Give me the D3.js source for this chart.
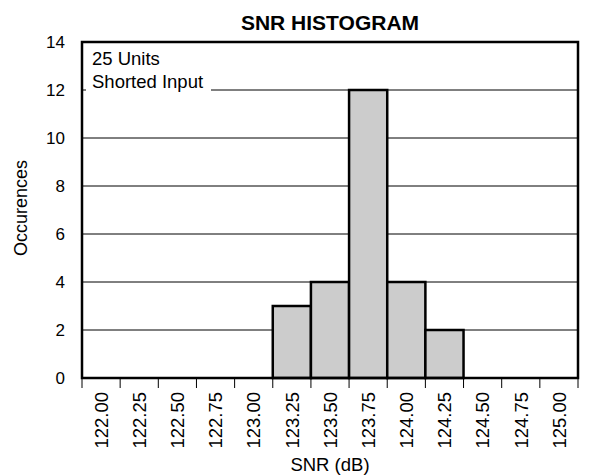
<!DOCTYPE html>
<html>
<head>
<meta charset="utf-8">
<script src="https://cdn.jsdelivr.net/npm/d3@7"></script>
<style>
  body { margin: 0; background: #fff; }
  text { font-family: "Liberation Sans", Arial, sans-serif; fill: #000; }
</style>
</head>
<body>
<div id="chart"></div>
<script>
////////////////////////////////////////////////////////////////////////
//
// SNR histogram -- 25 units, shorted input
//
////////////////////////////////////////////////////////////////////////

// chart data
var snrBins = ["122.00", "122.25", "122.50", "122.75", "123.00", "123.25", "123.50",
               "123.75", "124.00", "124.25", "124.50", "124.75", "125.00"];
var occurences = [0, 0, 0, 0, 0, 3, 4, 12, 4, 2, 0, 0, 0];
var yTicks = [0, 2, 4, 6, 8, 10, 12, 14];
var notes = ["25 Units", "Shorted Input"];

var width = 589;
var height = 476;
var margin = {top: 42, right: 11, bottom: 98, left: 82};

var svg = d3.select("#chart")
  .append("svg")
  .attr("width", width)
  .attr("height", height);

var x = d3.scaleBand()
  .domain(snrBins)
  .range([margin.left, width - margin.right])
  .padding(0);

var y = d3.scaleLinear()
  .domain([0, 14])
  .range([height - margin.bottom, margin.top]);

// gridlines
svg.append("g")
  .selectAll("line")
  .data(yTicks.slice(1, -1))
  .enter()
  .append("line")
  .attr("x1", margin.left)
  .attr("x2", width - margin.right)
  .attr("y1", d => y(d))
  .attr("y2", d => y(d))
  .attr("stroke", "#000")
  .attr("stroke-width", 1);

// white box behind the note, it hides part of the 12 gridline
svg.append("rect")
  .attr("x", margin.left + 4)
  .attr("y", margin.top + 3)
  .attr("width", 125)
  .attr("height", 50)
  .attr("fill", "#fff");

svg.append("g")
  .selectAll("text")
  .data(notes)
  .enter()
  .append("text")
  .attr("x", margin.left + 10)
  .attr("y", (d, i) => 65 + i * 23)
  .attr("font-size", 18.5)
  .text(d => d);

// bars
svg.append("g")
  .selectAll("rect")
  .data(occurences.map((v, i) => ({bin: snrBins[i], v: v})).filter(d => d.v > 0))
  .enter()
  .append("rect")
  .attr("x", d => x(d.bin))
  .attr("y", d => y(d.v))
  .attr("width", x.bandwidth())
  .attr("height", d => y(0) - y(d.v))
  .attr("fill", "#cccccc")
  .attr("stroke", "#000")
  .attr("stroke-width", 2.5);

// frame
svg.append("rect")
  .attr("x", margin.left)
  .attr("y", margin.top)
  .attr("width", width - margin.left - margin.right)
  .attr("height", height - margin.top - margin.bottom)
  .attr("fill", "none")
  .attr("stroke", "#000")
  .attr("stroke-width", 2.5);

// x ticks at bin edges
var edges = snrBins.map(b => x(b)).concat([x.range()[1]]);
svg.append("g")
  .selectAll("line")
  .data(edges)
  .enter()
  .append("line")
  .attr("x1", d => d)
  .attr("x2", d => d)
  .attr("y1", y(0))
  .attr("y2", y(0) + 10)
  .attr("stroke", "#000")
  .attr("stroke-width", 1);

// x tick labels (rotated)
svg.append("g")
  .selectAll("text")
  .data(snrBins)
  .enter()
  .append("text")
  .attr("transform", d => "translate(" + (x(d) + x.bandwidth() / 2 + 6.8) + "," + (y(0) + 14) + ") rotate(-90)")
  .attr("text-anchor", "end")
  .attr("font-size", 18.5)
  .text(d => d);

// y tick labels
svg.append("g")
  .selectAll("text")
  .data(yTicks)
  .enter()
  .append("text")
  .attr("x", margin.left - 17)
  .attr("y", d => y(d) + 6)
  .attr("text-anchor", "end")
  .attr("font-size", 17)
  .text(d => d);

// titles
svg.append("text")
  .attr("x", (margin.left + width - margin.right) / 2)
  .attr("y", 30)
  .attr("text-anchor", "middle")
  .attr("font-size", 21)
  .attr("font-weight", "bold")
  .text("SNR HISTOGRAM");

svg.append("text")
  .attr("x", (margin.left + width - margin.right) / 2)
  .attr("y", 471)
  .attr("text-anchor", "middle")
  .attr("font-size", 18.5)
  .text("SNR (dB)");

svg.append("text")
  .attr("transform", "translate(27,208) rotate(-90)")
  .attr("text-anchor", "middle")
  .attr("font-size", 18)
  .text("Occurences");
</script>
</body>
</html>
